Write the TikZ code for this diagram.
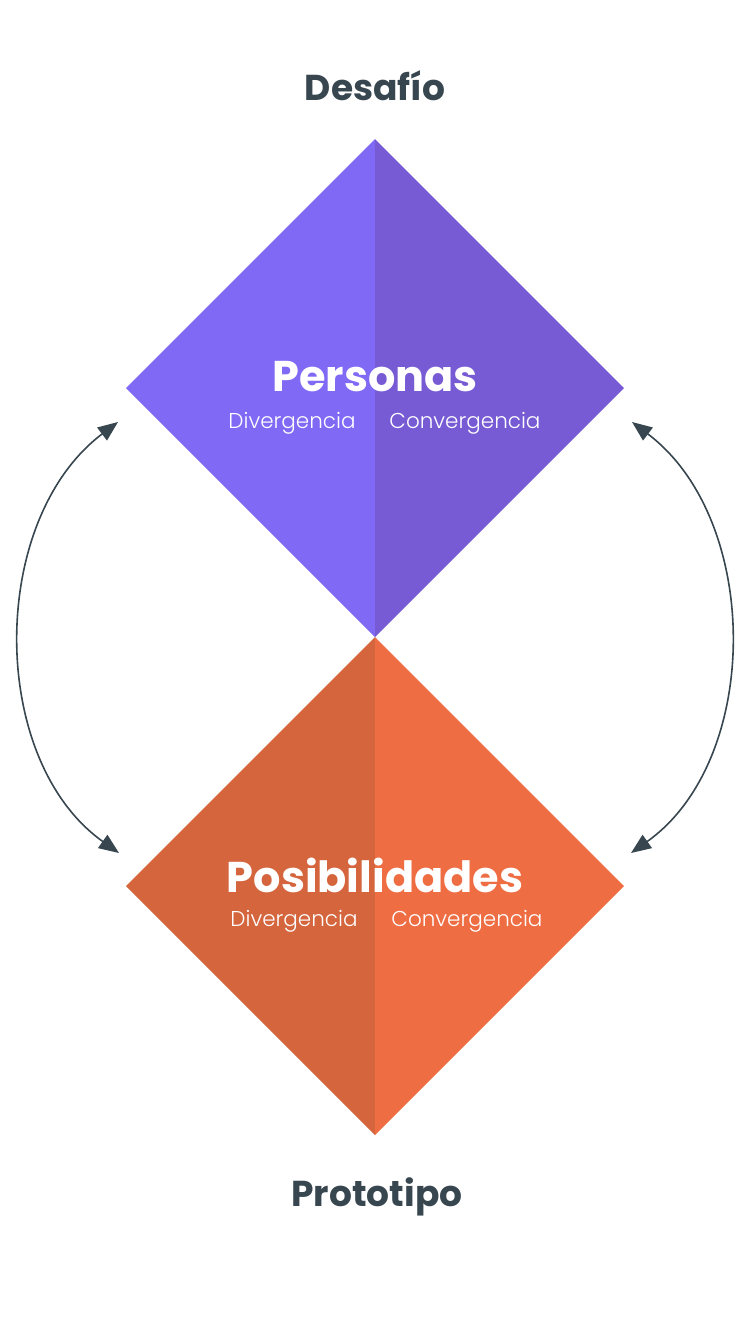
\documentclass[tikz,border=0pt]{standalone}
\usepackage{fontspec}
\setmainfont{Poppins}
\newfontfamily\lightfont{Poppins Light}
\usetikzlibrary{positioning,arrows.meta}
\definecolor{inkgray}{HTML}{37464F}
\definecolor{violetL}{HTML}{8069F5}
\definecolor{violetR}{HTML}{775BD4}
\definecolor{orangeL}{HTML}{D4653D}
\definecolor{orangeR}{HTML}{EE6D43}

\begin{document}
\begin{tikzpicture}[
		x=1pt, y=-1pt,
		endlabel/.style={text=inkgray, font=\fontsize{36}{42}\selectfont\bfseries},
		phaselabel/.style={text=white, font=\fontsize{43}{48}\selectfont\bfseries},
		sidelabel/.style={text=white, font=\fontsize{21.5}{25}\lightfont},
		loop/.style={draw=inkgray, line width=1.6pt, {Triangle[length=20pt,width=16pt]}-{Triangle[length=20pt,width=16pt]}}
	]
		\useasboundingbox (0,0) rectangle (750,1334);

		% top diamond
		\fill [violetL] (375,139) -- (126,388) -- (375,637) -- cycle;
		\fill [violetR] (375,139) -- (624,388) -- (375,637) -- cycle;
		% bottom diamond
		\fill [orangeL] (375,637) -- (126,886) -- (375,1135) -- cycle;
		\fill [orangeR] (375,637) -- (624,886) -- (375,1135) -- cycle;

		\node (desafio) [endlabel] at (375,86) {Desafío};
		\node (prototipo) [endlabel] at (377,1197) {Prototipo};

		\node (personas) [phaselabel] at (375,377) {Personas};
		\node (persdiv) [sidelabel] at (292,423) {Divergencia};
		\node (persconv) [sidelabel] at (465,423) {Convergencia};

		\node (posib) [phaselabel] at (375,875) {Posibilidades};
		\node (posdiv) [sidelabel] at (294,921) {Divergencia};
		\node (posconv) [sidelabel] at (467,921) {Convergencia};

		\coordinate (lefttop) at (118,422);
		\coordinate (leftbot) at (119,853);
		\coordinate (righttop) at (632,422);
		\coordinate (rightbot) at (631,853);

		\draw [loop] (lefttop) .. controls (-12,520) and (-12,760) .. (leftbot);
		\draw [loop] (righttop) .. controls (762,520) and (762,760) .. (rightbot);
	\end{tikzpicture}
\end{document}
